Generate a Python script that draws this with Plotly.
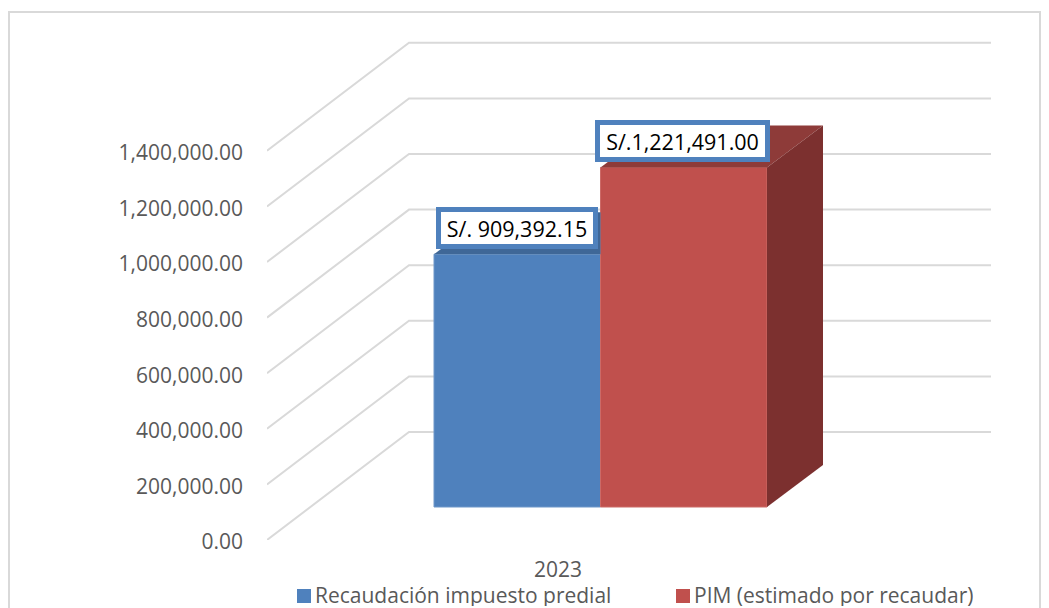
import plotly.graph_objects as go

YEARS = ["2023"]
SERIES = ["Recaudación impuesto predial", "PIM (estimado por recaudar)"]
VALUES = [909392.15, 1221491.00]
LABELS = ["S/. 909,392.15", "S/.1,221,491.00"]
TICKS = [0, 200000, 400000, 600000, 800000, 1000000, 1200000, 1400000]
FRONT = ["#4f81bd", "#c0504d"]
EDGE = ["#6f97c9", "#cc6a67"]
TOP = ["#3f6797", "#8e3b39"]
SIDE = ["#3a5f8c", "#7c302f"]

W, H = 1049, 608
L, R, T, B = 267, 991, 30, 540
PX_PER_UNIT = 55.6 / 200000
BAR_PX = 166.5
CENTER_PX = 517.25

def ux(px):
    return (px - CENTER_PX) / BAR_PX

def uy(px):
    return px / PX_PER_UNIT

xmin, xmax = ux(L), ux(R)
ymax = uy(B - T)
wall_dx, wall_dy = 142 / BAR_PX, uy(108)
bar_dx, bar_dy = 56 / BAR_PX, uy(42)
base = uy(33)

fig = go.Figure()
shapes = []
for t in TICKS:
    xs = [xmin, xmin + wall_dx, xmax]
    ys = [t, t + wall_dy, t + wall_dy]
    shapes.append(dict(type="path", layer="below", xref="x", yref="y",
                       path=f"M{xs[0]},{ys[0]} L{xs[1]},{ys[1]} L{xs[2]},{ys[2]}",
                       line=dict(color="#d9d9d9", width=2)))

for i, v in enumerate(VALUES):
    fig.add_trace(go.Bar(x=[i], y=[v], base=[base], width=1, name=SERIES[i],
                         marker=dict(color=FRONT[i], line=dict(width=1, color=EDGE[i])), showlegend=False))

for i, v in enumerate(VALUES):
    l, r = i - 0.5, i + 0.5
    top = base + v
    back_r = r + bar_dx
    if i < len(VALUES) - 1:
        back_r = min(back_r, r)
    fig.add_trace(go.Scatter(x=[l, l + bar_dx, back_r, r, l], y=[top, top + bar_dy, top + bar_dy, top, top],
                             fill="toself", fillcolor=TOP[i], mode="none", showlegend=False, hoverinfo="skip"))
    if i == len(VALUES) - 1:
        fig.add_trace(go.Scatter(x=[r, r + bar_dx, r + bar_dx, r, r],
                                 y=[top, top + bar_dy, base + bar_dy, base, top],
                                 fill="toself", fillcolor=SIDE[i], mode="none", showlegend=False, hoverinfo="skip"))

FS = 21
LABEL_W = [148, 161]
annos = []
for i, v in enumerate(VALUES):
    annos.append(dict(x=i, y=base + v, xref="x", yref="y", text=LABELS[i], showarrow=False,
                      yanchor="bottom", xanchor="center", yshift=5, xshift=-i,
                      width=LABEL_W[i], height=28,
                      font=dict(family="Open Sans", size=21.5, color="#000000"),
                      bgcolor="#ffffff", bordercolor="#4f81bd", borderwidth=5, borderpad=2))

LEG_SW = [297, 676]
LEG_Y = 595
for i, name in enumerate(SERIES):
    shapes.append(dict(type="rect", xref="paper", yref="paper",
                       x0=(LEG_SW[i] - L) / (R - L), x1=(LEG_SW[i] + 14 - L) / (R - L),
                       y0=(B - 596 - 7) / (B - T), y1=(B - 596 + 7) / (B - T),
                       fillcolor=FRONT[i], line=dict(width=0)))
    annos.append(dict(x=(LEG_SW[i] + 16 - L) / (R - L), y=(B - LEG_Y) / (B - T), xref="paper", yref="paper",
                      text=name, showarrow=False, xanchor="left", yanchor="middle", height=22, valign="middle",
                      font=dict(family="Open Sans", size=FS, color="#595959")))

# chart frame
shapes.append(dict(type="path", xref="paper", yref="paper", layer="below",
                   path=(f"M{(9-L)/(R-L)},{(B-620)/(B-T)} L{(9-L)/(R-L)},{(B-12)/(B-T)} "
                         f"L{(1040-L)/(R-L)},{(B-12)/(B-T)} L{(1040-L)/(R-L)},{(B-620)/(B-T)}"),
                   line=dict(color="#d9d9d9", width=2)))

fig.update_layout(
    width=W, height=H, margin=dict(l=L, r=W - R, t=T, b=H - B, autoexpand=False),
    paper_bgcolor="#ffffff", plot_bgcolor="rgba(0,0,0,0)", showlegend=False,
    shapes=shapes, annotations=annos, barmode="overlay",
    xaxis=dict(range=[xmin, xmax], showgrid=False, zeroline=False, showline=False, ticks="",
               tickmode="array", tickvals=[(xmin + xmax - wall_dx) / 2], ticktext=YEARS,
               ticklabelstandoff=15, tickfont=dict(family="Open Sans", size=FS, color="#595959")),
    yaxis=dict(range=[0, ymax], showgrid=False, zeroline=False, showline=False, ticks="",
               tickmode="array", tickvals=TICKS, tickformat=",.2f", ticklabelshift=2,
               ticklabelstandoff=23, tickfont=dict(family="Open Sans", size=FS, color="#595959")),
)
fig.write_html("out.html", config=dict(displayModeBar=False),
               post_script="document.body.style.margin='0';document.documentElement.style.overflow='hidden';")
